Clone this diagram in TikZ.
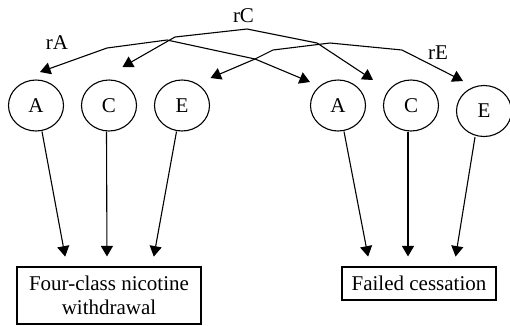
\documentclass[tikz,border=0pt]{standalone}
\usepackage{fontspec}
\setmainfont{Liberation Serif}
\usetikzlibrary{arrows.meta, shapes.geometric}

\begin{document}
\begin{tikzpicture}[
            x = 1pt, y = -1pt, % pixel grid, y runs down
            node distance = 73pt, % distance between factors
            line width = 1.1pt, % line style
            every node/.style = {font=\fontsize{21}{24}\selectfont},
            factor/.style = {ellipse, draw, minimum width=55pt, minimum height=51pt, inner sep=0pt},
            pheno/.style = {rectangle, draw, align=center, inner sep=0pt},
            load/.style = {-{Triangle[length=10.5pt, width=12pt]}, shorten > = 10pt},
            corr/.style = {{Triangle[length=10.5pt, width=12pt]}-{Triangle[length=10.5pt, width=12pt]}}
        ]
        \useasboundingbox (0,0) rectangle (510,325);

        % factors of the first phenotype
        \node[factor] (la) at (36,105.5) {A};
        \node[factor] (lc) [right of=la] {C};
        \node[factor] (le) [right of=lc] {E};
        % factors of the second phenotype
        \node[factor] (ra) at (338,105.5) {A};
        \node[factor] (rc) [right of=ra] {C};
        \node[factor] (re) [right of=rc, yshift=-5.5pt] {E};

        \node[pheno, minimum width=184pt, minimum height=57pt] (wd) at (109,295.5) {Four-class nicotine\\withdrawal};
        \node[pheno, minimum width=154pt, minimum height=33pt] (fc) at (419,283.5) {Failed cessation};

        \node (lra) at (57,42.5) {rA};
        \node (lrc) at (243.5,16) {rC};
        \node (lre) at (438,52.5) {rE};

        \draw[load] ([xshift=6pt]la.south) -- ([xshift=-42pt]wd.north);
        \draw[load] ([xshift=-2.5pt]lc.south) -- ([xshift=-2pt]wd.north);
        \draw[load] ([xshift=-5.5pt]le.south) -- ([xshift=43pt]wd.north);
        \draw[load] ([xshift=6pt]ra.south) -- ([xshift=-49pt]fc.north);
        \draw[load] ([xshift=-3pt]rc.south) -- ([xshift=-11pt]fc.north);
        \draw[load] ([xshift=-9pt]re.south) -- ([xshift=35pt]fc.north);

        % correlations across phenotypes
        \draw[corr] ([shift={(4,-33.5)}]la.center) -- (107,48) -- (167,40) -- (255,59) -- ([shift={(-28,-23.5)}]ra.center);
        \draw[corr] ([shift={(13.5,-38.5)}]lc.center) -- (175,37) -- (247,29) -- (317,43) -- ([shift={(-38,-25.5)}]rc.center);
        \draw[corr] ([shift={(28.5,-27.5)}]le.center) -- (255,59) -- (273,50) -- (330,43) -- (402,50) -- ([shift={(-21,-30)}]re.center);
\end{tikzpicture}
\end{document}
